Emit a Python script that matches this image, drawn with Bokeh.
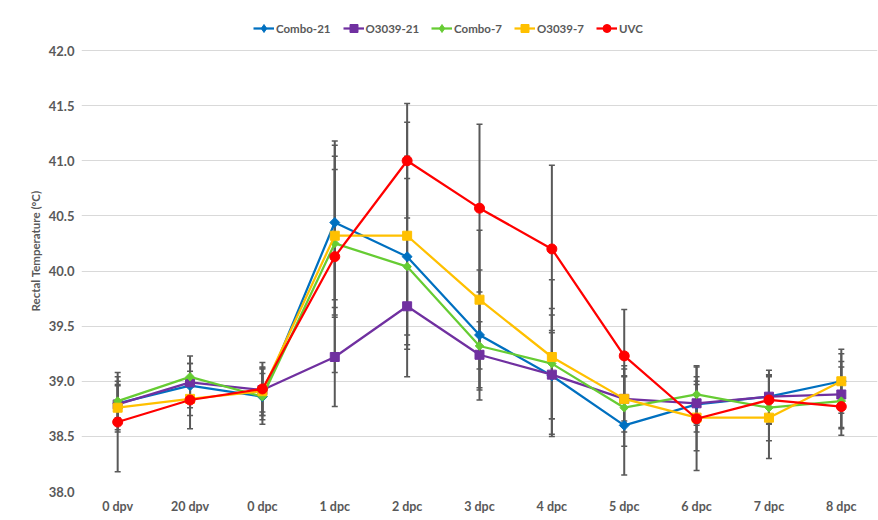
from bokeh.plotting import figure
from bokeh.models import FactorRange, Range1d, Legend, LegendItem, PrintfTickFormatter
from bokeh.embed import file_html
from bokeh.resources import INLINE

categories = ["0 dpv", "20 dpv", "0 dpc", "1 dpc", "2 dpc", "3 dpc", "4 dpc",
              "5 dpc", "6 dpc", "7 dpc", "8 dpc"]

series_names = ["Combo-21", "O3039-21", "Combo-7", "O3039-7", "UVC"]

combo21 = [38.80, 38.96, 38.86, 40.44, 40.13, 39.42, 39.05, 38.60, 38.79, 38.86, 39.00]
o3039_21 = [38.79, 38.99, 38.92, 39.22, 39.68, 39.24, 39.06, 38.84, 38.80, 38.86, 38.88]
combo7 = [38.82, 39.04, 38.86, 40.25, 40.04, 39.32, 39.16, 38.76, 38.88, 38.76, 38.82]
o3039_7 = [38.76, 38.84, 38.91, 40.32, 40.32, 39.74, 39.22, 38.84, 38.67, 38.67, 39.00]
uvc = [38.63, 38.83, 38.93, 40.13, 41.00, 40.57, 40.20, 39.23, 38.66, 38.83, 38.77]

combo21_err = [0.20, 0.20, 0.21, 0.70, 0.71, 0.59, 0.55, 0.45, 0.25, 0.24, 0.25]
o3039_21_err = [0.25, 0.17, 0.20, 0.45, 0.35, 0.30, 0.40, 0.20, 0.20, 0.20, 0.30]
combo7_err = [0.15, 0.19, 0.25, 0.67, 1.00, 0.40, 0.50, 0.35, 0.26, 0.30, 0.31]
o3039_7_err = [0.20, 0.15, 0.22, 0.72, 1.03, 0.63, 0.70, 0.30, 0.30, 0.37, 0.29]
uvc_err = [0.45, 0.26, 0.24, 1.05, 0.52, 0.76, 0.76, 0.42, 0.47, 0.22, 0.20]

y_ticks = [38.0, 38.5, 39.0, 39.5, 40.0, 40.5, 41.0, 41.5, 42.0]

values = [combo21, o3039_21, combo7, o3039_7, uvc]
errors = [combo21_err, o3039_21_err, combo7_err, o3039_7_err, uvc_err]
colors = ["#0070C0", "#7030A0", "#66CC33", "#FFC000", "#FF0000"]
markers = ["square", "square", "square", "square", "circle"]
legend_markers = ["diamond", "square", "diamond", "square", "circle"]
msizes = [7, 9, 6, 9, 10]
legend_sizes = [10, 8, 9, 8, 9]
angles = [0.785398, 0, 0.785398, 0, 0]

FONT = "Lato"
TXT = "#595959"

# frame spans page y 10..491; 42.0 must sit at y=50 -> extra headroom for legend
y_top = 42.0 + 40.0 / 110.25

p = figure(x_range=FactorRange(*categories), y_range=Range1d(38.0, y_top),
           width=878, height=520, output_backend="svg", toolbar_location=None,
           min_border_left=81, min_border_right=1, min_border_top=10,
           min_border_bottom=29)
p.outline_line_color = None
p.background_fill_color = "white"
p.border_fill_color = "white"

p.xgrid.grid_line_color = None
p.ygrid.grid_line_color = "#D9D9D9"
p.ygrid.grid_line_width = 1
p.yaxis.ticker = y_ticks
p.yaxis.formatter = PrintfTickFormatter(format="%.1f")

for ax in (p.xaxis, p.yaxis):
    ax.axis_line_color = None
    ax.major_tick_line_color = None
    ax.minor_tick_line_color = None
    ax.major_tick_out = 0
    ax.major_tick_in = 0
    ax.major_label_text_font = FONT
    ax.major_label_text_font_style = "bold"
    ax.major_label_text_color = TXT

p.xaxis.major_label_text_font_size = "12.5px"
p.yaxis.major_label_text_font_size = "13px"
p.xaxis.major_label_standoff = 7
p.yaxis.major_label_standoff = 7
p.yaxis.axis_label = "Rectal Temperature (°C)"
p.yaxis.axis_label_text_font = FONT
p.yaxis.axis_label_text_font_style = "bold"
p.yaxis.axis_label_text_font_size = "11.5px"
p.yaxis.axis_label_text_color = TXT
p.yaxis.axis_label_standoff = 4

# error bars
for vals, errs in zip(values, errors):
    lo = [v - e for v, e in zip(vals, errs)]
    hi = [v + e for v, e in zip(vals, errs)]
    p.segment(x0=categories, y0=lo, x1=categories, y1=hi,
              line_color="#595959", line_width=2)
    p.scatter(x=categories, y=lo, marker="dash", size=6, line_color="#595959", line_width=1.5)
    p.scatter(x=categories, y=hi, marker="dash", size=6, line_color="#595959", line_width=1.5)

items = []
for name, vals, col, mk, ms, ang, lmk, lms in zip(series_names, values, colors, markers,
                                                  msizes, angles, legend_markers, legend_sizes):
    ln = p.line(x=categories, y=vals, line_color=col, line_width=2.25)
    p.scatter(x=categories, y=vals, marker=mk, size=ms, angle=ang,
              fill_color=col, line_color=col)
    # legend-only glyph, placed below the visible range so only the legend shows it
    lsc = p.scatter(x=[categories[0]], y=[y_ticks[0] - 10.0], marker=lmk, size=lms,
                    fill_color=col, line_color=col)
    items.append(LegendItem(label=name, renderers=[ln, lsc]))

legend = Legend(items=items, orientation="horizontal", location=(172, 453))
legend.label_text_font = FONT
legend.label_text_font_style = "bold"
legend.label_text_font_size = "11.5px"
legend.label_text_color = TXT
legend.border_line_color = None
legend.background_fill_alpha = 0
legend.glyph_width = 21
legend.glyph_height = 20
legend.label_height = 20
legend.label_standoff = 2
legend.spacing = 12
legend.padding = 2
legend.margin = 0
p.add_layout(legend)

open("out.html", "w").write(file_html(p, INLINE))
